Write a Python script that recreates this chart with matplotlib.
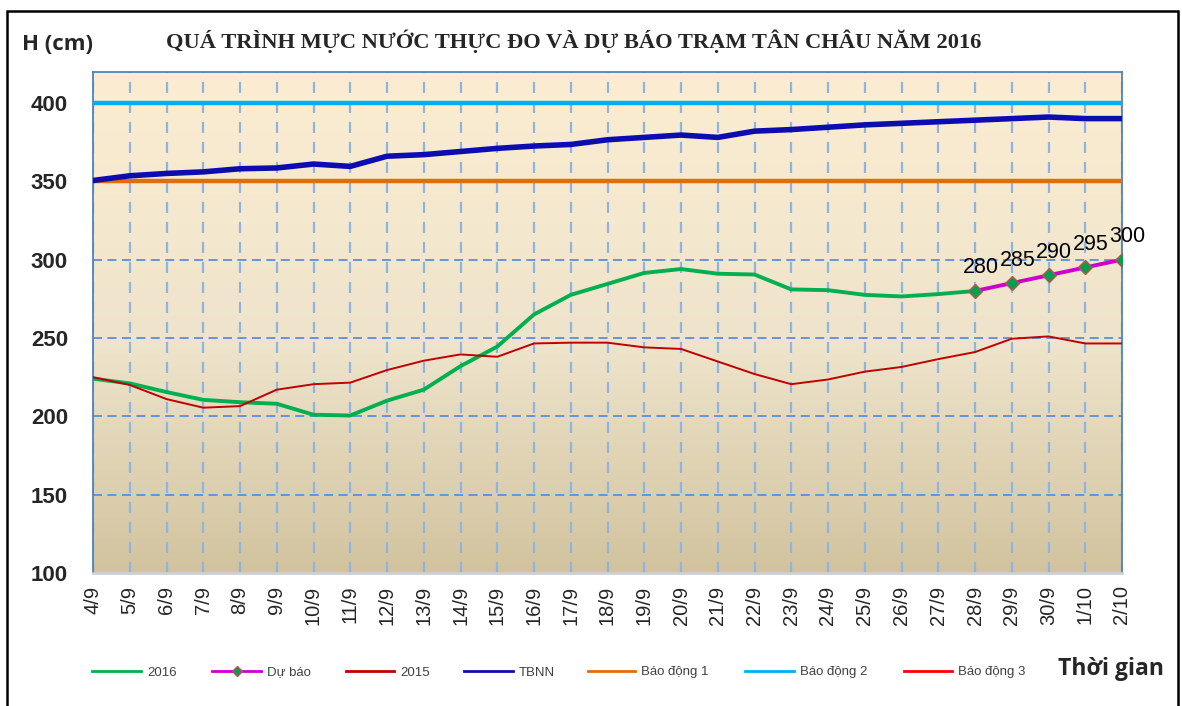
import numpy as np
import matplotlib
matplotlib.use("Agg")
from matplotlib import pyplot as plt
from matplotlib.colors import LinearSegmentedColormap
from matplotlib.lines import Line2D
from matplotlib.patches import Rectangle

# dữ liệu
ngay = ["4/9", "5/9", "6/9", "7/9", "8/9", "9/9", "10/9", "11/9", "12/9", "13/9",
        "14/9", "15/9", "16/9", "17/9", "18/9", "19/9", "20/9", "21/9", "22/9", "23/9",
        "24/9", "25/9", "26/9", "27/9", "28/9", "29/9", "30/9", "1/10", "2/10"]

h2016 = [224, 221, 215.5, 210.5, 209, 208, 201, 200.5, 210, 217,
         232, 244.5, 265, 277.5, 284.5, 291.5, 294, 291, 290.5, 281,
         280.5, 277.5, 276.5, 278, 280]

du_bao = [280, 285, 290, 295, 300]
ngay_du_bao = ["28/9", "29/9", "30/9", "1/10", "2/10"]

h2015 = [225, 220, 211, 205.5, 206.5, 217, 220.5, 221.5, 229.5, 235.5,
         239.5, 238, 246.5, 247, 247, 244, 243, 235, 227, 220.5,
         223.5, 228.5, 231.5, 236.5, 241, 249.5, 251, 246.5, 246.5]

tbnn = [350.5, 353.5, 355, 356, 358, 358.5, 361, 359.5, 366, 367,
        369, 371, 372.5, 373.5, 376.5, 378, 379.5, 378, 382, 383,
        384.5, 386, 387, 388, 389, 390, 391, 390, 390]

bao_dong = {"Báo động 1": 350, "Báo động 2": 400, "Báo động 3": 450}

plt.rcParams['font.family'] = ['Liberation Sans', 'DejaVu Sans']

W, H = 1182, 706
fig = plt.figure(figsize=(W / 100, H / 100), dpi=100)
ax = fig.add_axes([93/W, 1 - 573/H, (1122-93)/W, (573-71.6)/H])

x = np.arange(len(ngay))
ax.set_xlim(0, len(ngay) - 1)
ax.set_ylim(100, 420)

# nền chuyển màu
nen = LinearSegmentedColormap.from_list("nen", [(0, "#D2C39E"), (0.45, "#EEE4CB"), (1, "#FCEDD2")])
grad = np.linspace(0, 1, 256).reshape(-1, 1)
ax.imshow(grad, cmap=nen, origin="lower", aspect="auto",
          extent=[0, len(ngay) - 1, 100, 420], zorder=0)

# lưới
for xi in x:
    ax.axvline(xi, color="#8DB4E2", lw=1.6, ls=(0, (5, 4)), zorder=1)
for yi in [150, 200, 250, 300, 350, 400]:
    ax.axhline(yi, color="#5B8ED6", lw=1.3, ls=(0, (5, 3)), zorder=1)

mau = {"2016": "#00B050", "Dự báo": "#CC00CC", "2015": "#C00000", "TBNN": "#0C0CB0",
       "Báo động 1": "#E46C0A", "Báo động 2": "#00B0F0", "Báo động 3": "#FF0000"}

ax.plot(x, [bao_dong["Báo động 1"]] * len(x), color=mau["Báo động 1"], lw=3.2, zorder=3)
ax.plot(x, [bao_dong["Báo động 2"]] * len(x), color=mau["Báo động 2"], lw=3.2, zorder=3)
ax.plot(x, [bao_dong["Báo động 3"]] * len(x), color=mau["Báo động 3"], lw=2, zorder=3)

ax.plot(x[:len(h2016)], h2016, color=mau["2016"], lw=2.8, zorder=4,
        solid_joinstyle="round", solid_capstyle="round")
ax.plot(x, h2015, color=mau["2015"], lw=1.4, zorder=4, solid_joinstyle="round")
ax.plot(x, tbnn, color=mau["TBNN"], lw=4, zorder=4,
        solid_joinstyle="round", solid_capstyle="round")

x_db = [ngay.index(d) for d in ngay_du_bao]
ax.plot(x_db, du_bao, color=mau["Dự báo"], lw=2.8, marker="D", ms=7,
        mfc="#00A050", mec="#C0504D", mew=1, zorder=5)
for xi, v in zip(x_db, du_bao):
    ax.annotate(str(v), (xi, v), xytext=(4, 9), textcoords="offset points",
                ha="center", va="bottom", fontsize=15.5, color="black", zorder=6)

ax.set_yticks([100, 150, 200, 250, 300, 350, 400])
ax.set_yticklabels(["100", "150", "200", "250", "300", "350", "400"],
                   fontsize=16, fontweight="bold", color="#262626")
ax.set_xticks(x)
ax.set_xticklabels(ngay, rotation=90, fontsize=14.5, color="#262626")
ax.tick_params(axis="y", length=0, pad=18)
ax.tick_params(axis="x", length=0, pad=9)

for s in ["left", "top", "right"]:
    ax.spines[s].set_color("#4F81BD")
    ax.spines[s].set_linewidth(1.3)
ax.spines["bottom"].set_color("#D0D0D0")
ax.spines["bottom"].set_linewidth(2)

fig.text(22/W, 1 - 44/H, "H (cm)", fontsize=16, fontweight="bold",
         color="#262626", family=["Open Sans", "DejaVu Sans"], va="center", ha="left")
fig.text(574/W, 1 - 41/H, "QUÁ TRÌNH MỰC NƯỚC THỰC ĐO VÀ DỰ BÁO TRẠM TÂN CHÂU NĂM 2016",
         fontsize=16.2, fontweight="bold", color="#262626",
         family=["Liberation Serif", "DejaVu Serif"], ha="center", va="center")
fig.text(1111/W, 1 - 669/H, "Thời gian", fontsize=16.5, fontweight="bold",
         color="#262626", family=["Open Sans", "DejaVu Sans"], ha="center", va="center")

# chú thích, đặt từng mục như bản gốc
thu_tu = ["2016", "Dự báo", "2015", "TBNN", "Báo động 1", "Báo động 2", "Báo động 3"]
vi_tri = [(92, 141), (212, 261), (346, 394), (464, 513), (588, 635), (745, 794), (904, 952)]
ly = 1 - 671/H
for ten, (a, b) in zip(thu_tu, vi_tri):
    fig.add_artist(Line2D([a/W, b/W], [ly, ly], color=mau[ten], lw=2, transform=fig.transFigure))
    if ten == "Dự báo":
        fig.add_artist(Line2D([(a + b) / 2 / W], [ly], marker="D", ms=5, mfc="#00A050",
                              mec="#C0504D", mew=1, transform=fig.transFigure))
    fig.text((b + 6) / W, ly, ten, fontsize=9.5, color="#404040", ha="left", va="center_baseline")

fig.patches.append(Rectangle((7/W, -0.01), (1178-7)/W, 1 - 11/H + 0.01,
                             transform=fig.transFigure, fill=False, ec="black", lw=1.8))

fig.savefig("out.png", dpi=100)
